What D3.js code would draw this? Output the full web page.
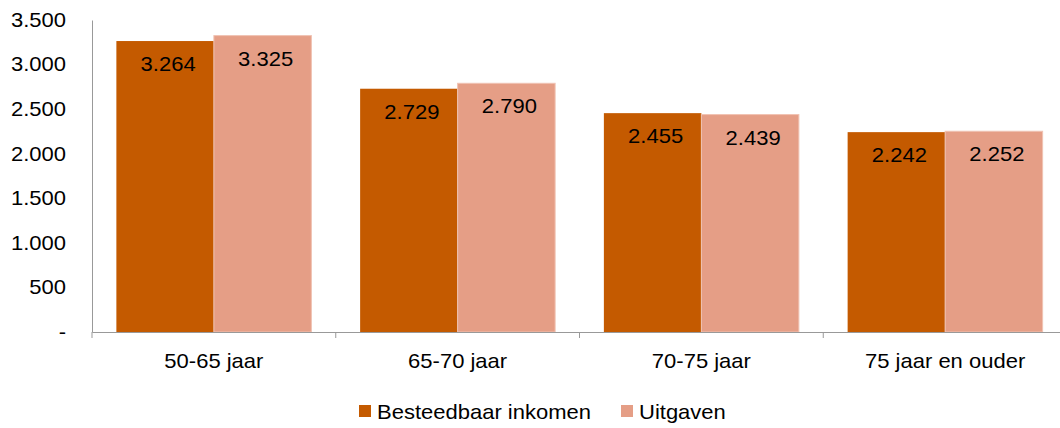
<!DOCTYPE html>
<html>
<head>
<meta charset="utf-8">
<script src="https://cdn.jsdelivr.net/npm/d3@7"></script>
<style>
  body { margin: 0; background: #fff; }
  text { font-family: "Liberation Sans", Arial, sans-serif; }
</style>
</head>
<body>
<div id="chart-area"></div>
<script>
const categories = ['50-65 jaar', '65-70 jaar', '70-75 jaar', '75 jaar en ouder'];
const seriesNames = ['Besteedbaar inkomen', 'Uitgaven'];
const inkomen = [3264, 2729, 2455, 2242];
const uitgaven = [3325, 2790, 2439, 2252];
const yTicks = [0, 500, 1000, 1500, 2000, 2500, 3000, 3500];
const colors = ['#c45a00', '#e59e86'];

const MARGIN = { LEFT: 92, TOP: 20 }
const W = 1060, H = 428
const PLOT_W = 975
const PLOT_H = 312
const FS = "20px"
const SX = 1.1   // text in the original is a bit wider

const nl = d3.formatLocale({ decimal: ",", thousands: ".", grouping: [3], currency: ["€", ""] })
const fmt = nl.format(",")

const rows = categories.map((c, i) => ({ cat: c, values: [inkomen[i], uitgaven[i]] }))

const svg = d3.select("#chart-area").append("svg")
      .attr("width", W)
      .attr("height", H)

const g = svg.append("g")
      .attr("transform", `translate(${MARGIN.LEFT}, ${MARGIN.TOP})`)

const x = d3.scaleBand()
      .domain(categories)
      .range([0, PLOT_W])
      .padding(0)

const x1 = d3.scaleBand()
      .domain([0, 1])
      .range([0, x.bandwidth()])
      .paddingInner(0)
      .paddingOuter(0.25)

const y = d3.scaleLinear()
      .domain([0, 3500])
      .range([PLOT_H, 0])

// bars
const groups = g.selectAll(".grp").data(rows).enter().append("g")
      .attr("transform", d => `translate(${x(d.cat)},0)`)

groups.selectAll("rect").data(d => d.values).enter().append("rect")
      .attr("x", (d, i) => x1(i))
      .attr("y", d => y(d))
      .attr("width", x1.bandwidth())
      .attr("height", d => PLOT_H - y(d))
      .attr("fill", (d, i) => colors[i])
      .attr("stroke", (d, i) => i === 1 ? "#f0c2b2" : "none")
      .attr("stroke-width", 1)

groups.selectAll(".lbl").data(d => d.values).enter().append("text")
      .attr("transform", (d, i) => `translate(${x1(i) + x1.bandwidth() / 2 + 3}, ${y(d) + 30}) scale(${SX},1)`)
      .attr("text-anchor", "middle")
      .attr("font-size", FS)
      .attr("fill", "#000")
      .text(d => fmt(d))

// y axis
const yAxis = g.append("g")
      .call(d3.axisLeft(y).tickValues(yTicks).tickSize(0).tickPadding(26 / SX)
            .tickFormat(d => d === 0 ? "-" : fmt(d)))
yAxis.select(".domain").attr("stroke", "#999")
yAxis.selectAll("text").attr("font-size", FS).attr("fill", "#000")
      .attr("font-family", "'Liberation Sans', Arial, sans-serif")
      .attr("transform", `scale(${SX},1)`)

// x axis
const xAxis = g.append("g")
      .attr("transform", `translate(0, ${PLOT_H})`)
      .call(d3.axisBottom(x).tickSize(0).tickPadding(22))
xAxis.select(".domain").attr("stroke", "#999")
xAxis.selectAll("text").attr("font-size", FS).attr("fill", "#000")
      .attr("font-family", "'Liberation Sans', Arial, sans-serif")
      .attr("transform", `scale(${SX},1)`)

// boundary ticks
const bounds = categories.map(c => x(c)).concat([PLOT_W])
g.selectAll(".btick").data(bounds).enter().append("line")
      .attr("x1", d => d).attr("x2", d => d)
      .attr("y1", PLOT_H).attr("y2", PLOT_H + 6)
      .attr("stroke", "#999")

// legend
const legX = [359, 621]
const leg = svg.selectAll(".leg").data(seriesNames).enter().append("g")
      .attr("transform", (d, i) => `translate(${legX[i]}, 405)`)
leg.append("rect")
      .attr("width", 12).attr("height", 12)
      .attr("fill", (d, i) => colors[i])
leg.append("text")
      .attr("transform", `translate(18, 14) scale(${SX},1)`)
      .attr("font-size", FS)
      .attr("fill", "#000")
      .text(d => d)
</script>
</body>
</html>
